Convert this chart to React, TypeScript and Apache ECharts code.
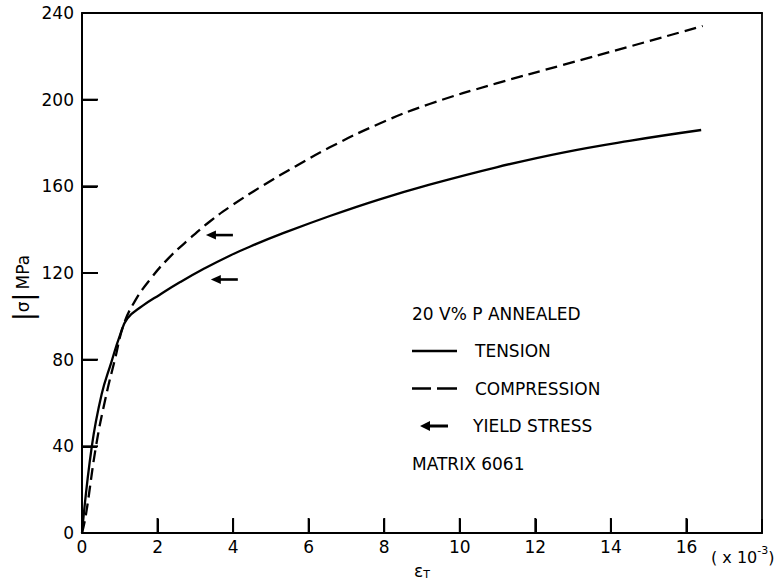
import React, { useEffect, useRef } from "react";
import * as echarts from "echarts";

// Tension curve (strain x10^-3, |stress| MPa)
const tensionStrain = [0, 0.26, 0.52, 0.78, 1.0, 1.2, 1.6, 2.06, 2.6, 3.2, 3.91, 4.6, 5.24, 6.56, 7.88, 9.2, 10.97, 12.73, 14.49, 16.39];
const tensionStress = [0, 40, 64, 79, 91, 99, 104.8, 110, 115.8, 121.7, 128, 133.3, 137.8, 146.3, 154, 160.8, 168.8, 175.6, 181, 186];

// Compression curve
const compressionStrain = [0, 0.1, 0.37, 0.62, 0.87, 1.1, 1.4, 1.8, 2.3, 2.86, 3.4, 3.91, 4.8, 5.68, 6.56, 7.88, 9.2, 10.97, 12.73, 14.49, 16.43];
const compressionStress = [0, 8, 40, 62, 80, 96, 107, 117, 127, 136, 144, 150.5, 160.5, 169.5, 178, 189, 198, 207.5, 216, 224.5, 234];

// Yield stress arrows (arrow tip position)
const yieldStrain = [3.28, 3.41];
const yieldStress = [137.5, 117];

const xTicks = [0, 2, 4, 6, 8, 10, 12, 14, 16];
const yTicks = [0, 40, 80, 120, 160, 200, 240];

const FONT = '"DejaVu Sans", sans-serif';
const ARROW = "path://M0,5 L10,0 L10,3.6 L28,3.6 L28,6.4 L10,6.4 L10,10 Z";
const SOLID_ICON = "path://M0,0 L45,0 L45,2.4 L0,2.4 Z";
const DASH_ICON = "path://M0,0 L19,0 L19,2.4 L0,2.4 Z M25,0 L45,0 L45,2.4 L25,2.4 Z";

const zip = (a: number[], b: number[]) => a.map((v, i) => [v, b[i]]);

const frameAxis = { show: true, lineStyle: { color: "#000", width: 1.8 } };

const textGraphics: any[] = [
  {
    type: "text",
    id: "title",
    left: 412,
    top: 305,
    style: { text: "20 V% P ANNEALED", fontSize: 17, fontFamily: FONT, fill: "#000" },
  },
  {
    type: "text",
    id: "matrix",
    left: 412,
    top: 455,
    style: { text: "MATRIX 6061", fontSize: 17, fontFamily: FONT, fill: "#000" },
  },
  {
    type: "text",
    id: "xscale",
    x: 711,
    y: 545,
    style: {
      text: "{a|( x 10}{s|-3}{a|)}",
      fill: "#000",
      rich: {
        a: { fontSize: 16, fontFamily: FONT, fill: "#000", lineHeight: 20, verticalAlign: "bottom" },
        s: { fontSize: 11, fontFamily: FONT, fill: "#000", lineHeight: 12, verticalAlign: "top" },
      },
    },
  },
  {
    type: "text",
    id: "yname",
    x: 23,
    y: 288,
    rotation: Math.PI / 2,
    style: {
      text: "{b||}{s|σ}{b||} {m|MPa}",
      align: "center",
      verticalAlign: "middle",
      fill: "#000",
      rich: {
        b: { fontSize: 26, fontFamily: FONT, fill: "#000", lineHeight: 28 },
        s: { fontSize: 17, fontFamily: FONT, fill: "#000", lineHeight: 28 },
        m: { fontSize: 17, fontFamily: FONT, fill: "#000", lineHeight: 28 },
      },
    },
  },
];

export default function App() {
  const ref = useRef<HTMLDivElement>(null);
  useEffect(() => {
    if (!ref.current) return;
    const chart = echarts.init(ref.current, undefined, { renderer: "svg" });
    chart.setOption({
      animation: false,
      backgroundColor: "#fff",
      textStyle: { fontFamily: FONT, color: "#000" },
      grid: { left: 82, right: 17, top: 13, bottom: 43 },
      xAxis: [
        {
          type: "value",
          position: "bottom",
          min: 0,
          max: 18,
          interval: 2,
          axisLine: { show: true, onZero: false, lineStyle: { color: "#000", width: 2 } },
          axisTick: { show: true, inside: true, length: 14, lineStyle: { color: "#000", width: 2 } },
          axisLabel: {
            show: true,
            color: "#000",
            fontSize: 17,
            fontFamily: FONT,
            margin: 5,
            formatter: (v: number) => (xTicks.includes(v) ? String(v) : ""),
          },
          splitLine: { show: false },
          name: "{e|ε}{t|T}",
          nameLocation: "middle",
          nameGap: 29,
          nameTextStyle: {
            rich: {
              e: { fontSize: 17, fontFamily: FONT, color: "#000", lineHeight: 18, verticalAlign: "top" },
              t: { fontSize: 11, fontFamily: FONT, color: "#000", lineHeight: 11, verticalAlign: "bottom" },
            },
          },
        },
        {
          type: "value",
          position: "top",
          min: 0,
          max: 18,
          axisLine: { ...frameAxis, onZero: false },
          axisTick: { show: false },
          axisLabel: { show: false },
          splitLine: { show: false },
        },
      ],
      yAxis: [
        {
          type: "value",
          position: "left",
          min: 0,
          max: 240,
          interval: 40,
          axisLine: { show: true, onZero: false, lineStyle: { color: "#000", width: 2 } },
          axisTick: { show: true, inside: true, length: 15, lineStyle: { color: "#000", width: 2 } },
          axisLabel: {
            show: true,
            color: "#000",
            fontSize: 17,
            fontFamily: FONT,
            margin: 8,
            formatter: (v: number) => (yTicks.includes(v) ? String(v) : ""),
          },
          splitLine: { show: false },
        },
        {
          type: "value",
          position: "right",
          min: 0,
          max: 240,
          axisLine: { ...frameAxis, onZero: false },
          axisTick: { show: false },
          axisLabel: { show: false },
          splitLine: { show: false },
        },
      ],
      legend: [
        {
          data: [
            { name: "TENSION", icon: SOLID_ICON },
            { name: "COMPRESSION", icon: DASH_ICON },
          ],
          orient: "vertical",
          left: 412,
          top: 342.5,
          padding: 0,
          itemWidth: 45,
          itemHeight: 17,
          itemGap: 20.5,
          selectedMode: false,
          textStyle: { fontSize: 17, fontFamily: FONT, color: "#000", lineHeight: 17, padding: [0, 0, 0, 13] },
        },
        {
          data: [{ name: "YIELD STRESS", icon: ARROW, itemStyle: { color: "#000" } }],
          orient: "vertical",
          left: 420,
          top: 417.5,
          padding: 0,
          itemWidth: 28,
          itemHeight: 17,
          selectedMode: false,
          textStyle: { fontSize: 17, fontFamily: FONT, color: "#000", lineHeight: 17, padding: [0, 0, 0, 20] },
        },
      ],
      graphic: textGraphics,
      series: [
        {
          name: "TENSION",
          type: "line",
          data: zip(tensionStrain, tensionStress),
          showSymbol: false,
          symbol: "none",
          smooth: 0.45,
          itemStyle: { color: "#000" },
          lineStyle: { color: "#000", width: 2.3 },
        },
        {
          name: "COMPRESSION",
          type: "line",
          data: zip(compressionStrain, compressionStress),
          showSymbol: false,
          symbol: "none",
          smooth: 0.45,
          itemStyle: { color: "#000" },
          lineStyle: { color: "#000", width: 2.3, type: [12, 6] },
        },
        {
          name: "YIELD STRESS",
          type: "custom",
          data: zip(yieldStrain, yieldStress),
          itemStyle: { color: "#000" },
          renderItem: (params: any, api: any) => {
            const tip = api.coord([api.value(0), api.value(1)]);
            return {
              type: "group",
              children: [
                {
                  type: "polygon",
                  shape: {
                    points: [
                      [tip[0], tip[1]],
                      [tip[0] + 10, tip[1] - 4.5],
                      [tip[0] + 10, tip[1] + 4.5],
                    ],
                  },
                  style: { fill: "#000" },
                },
                {
                  type: "line",
                  shape: { x1: tip[0] + 9, y1: tip[1], x2: tip[0] + 27, y2: tip[1] },
                  style: { stroke: "#000", lineWidth: 2.6 },
                },
              ],
            };
          },
        },
      ],
    });

    // Inward tick marks positioned through the chart's own scales
    const tickRects: any[] = [];
    xTicks
      .filter((v) => v > 0)
      .forEach((v, i) => {
        const p = chart.convertToPixel({ xAxisIndex: 0, yAxisIndex: 0 }, [v, 0]) as number[];
        tickRects.push({
          type: "rect",
          id: "xt" + i,
          z: 100,
          shape: { x: p[0] - 1, y: p[1] - 15, width: 2, height: 15 },
          style: { fill: "#000" },
        });
      });
    yTicks
      .filter((v) => v > 0 && v < 240)
      .forEach((v, i) => {
        const p = chart.convertToPixel({ xAxisIndex: 0, yAxisIndex: 0 }, [0, v]) as number[];
        tickRects.push({
          type: "rect",
          id: "yt" + i,
          z: 100,
          shape: { x: p[0], y: p[1] - 1, width: 16, height: 2 },
          style: { fill: "#000" },
        });
      });
    chart.setOption({ graphic: [...textGraphics, ...tickRects] });

    return () => chart.dispose();
  }, []);
  return <div ref={ref} style={{ position: "absolute", left: 0, top: 0, width: 779, height: 585 }} />;
}
